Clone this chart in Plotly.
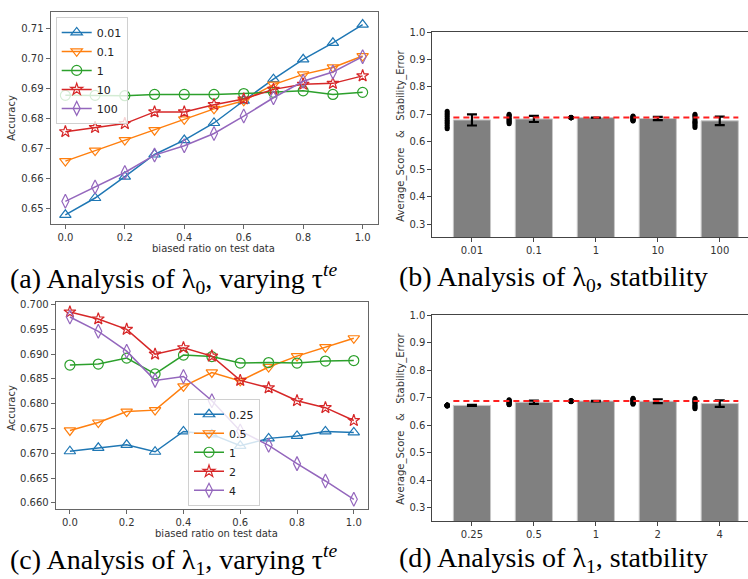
import numpy as np
import plotly.graph_objects as go

# ---------------- data ----------------
ratios = [0.0, 0.1, 0.2, 0.3, 0.4, 0.5, 0.6, 0.7, 0.8, 0.9, 1.0]

lam0_labels = ["0.01", "0.1", "1", "10", "100"]
lam0_01 = [0.6478, 0.6534, 0.6605, 0.6679, 0.6727, 0.6784, 0.6858, 0.6930, 0.6996, 0.7051, 0.7112]
lam0_1 = [0.6657, 0.6692, 0.6727, 0.6760, 0.6796, 0.6831, 0.6858, 0.6912, 0.6946, 0.6969, 0.7007]
lam0_10 = [0.6876, 0.6876, 0.6875, 0.6879, 0.6879, 0.6879, 0.6882, 0.6886, 0.6891, 0.6879, 0.6886]
lam0_100 = [0.6755, 0.6769, 0.6782, 0.6821, 0.6821, 0.6845, 0.6864, 0.6896, 0.6913, 0.6916, 0.6941]
lam0_1000 = [0.6523, 0.6571, 0.6619, 0.6677, 0.6708, 0.6749, 0.6807, 0.6868, 0.6923, 0.6954, 0.7005]

lam1_labels = ["0.25", "0.5", "1", "2", "4"]
lam1_025 = [0.6704, 0.6711, 0.6717, 0.6703, 0.6744, 0.6738, 0.6715, 0.6730, 0.6735, 0.6744, 0.6742]
lam1_05 = [0.6746, 0.6762, 0.6784, 0.6787, 0.6835, 0.6863, 0.6846, 0.6874, 0.6896, 0.6914, 0.6932]
lam1_1 = [0.6878, 0.6880, 0.6892, 0.6860, 0.6898, 0.6895, 0.6882, 0.6883, 0.6882, 0.6886, 0.6887]
lam1_2 = [0.6985, 0.6971, 0.6950, 0.6900, 0.6913, 0.6896, 0.6847, 0.6832, 0.6806, 0.6792, 0.6766]
lam1_4 = [0.6975, 0.6946, 0.6906, 0.6847, 0.6855, 0.6806, 0.6745, 0.6716, 0.6679, 0.6644, 0.6607]

series_a = [lam0_01, lam0_1, lam0_10, lam0_100, lam0_1000]
series_c = [lam1_025, lam1_05, lam1_1, lam1_2, lam1_4]

colors = ["#1f77b4", "#ff7f0e", "#2ca02c", "#d62728", "#9467bd"]
symbols = ["triangle-up-open", "triangle-down-open", "circle-open", "star-open", "diamond-tall-open"]
msizes = [10, 10, 10, 9, 10]

W, H = 748, 579


def px_x(a, b):
    return [a / W, b / W]


def px_y(top, bottom):
    return [1 - bottom / H, 1 - top / H]


fig = go.Figure()

TICKFONT = dict(family="DejaVu Sans", size=10, color="#333")
SPINE = "#666"

# ---------------- line panels ----------------
def add_lines(series, labels, xa, ya, legend):
    for s, lab, c, sym, ms in zip(series, labels, colors, symbols, msizes):
        fig.add_trace(go.Scatter(
            x=ratios, y=s, name=lab, mode="lines+markers",
            line=dict(color=c, width=1.5),
            marker=dict(symbol=sym, size=ms, color=c, line=dict(width=1.2, color=c)),
            xaxis=xa, yaxis=ya, legend=legend))


add_lines(series_a, lam0_labels, "x", "y", "legend")
add_lines(series_c, lam1_labels, "x3", "y3", "legend2")

# ---------------- bar panels ----------------
def add_bars(series, labels, xa, ya):
    pos = list(range(len(labels)))
    means = [float(np.mean(s)) for s in series]
    stds = [float(np.std(s)) for s in series]
    fig.add_trace(go.Bar(
        x=pos, y=means, width=0.6,
        marker=dict(color="#808080", line=dict(color="#c8c8c8", width=1)),
        error_y=dict(type="data", array=stds, color="black", thickness=2.2, width=5),
        xaxis=xa, yaxis=ya, showlegend=False))
    dx, dy = [], []
    for p, s in zip(pos, series):
        dx += [p - 0.4] * len(s)
        dy += list(s)
    fig.add_trace(go.Scatter(
        x=dx, y=dy, mode="markers",
        marker=dict(color="black", size=5),
        xaxis=xa, yaxis=ya, showlegend=False))
    best = max(means)
    fig.add_trace(go.Scatter(
        x=[pos[0] - 0.3, pos[-1] + 0.3], y=[best, best], mode="lines",
        line=dict(color="#ff2020", width=2, dash="6px,4px"),
        xaxis=xa, yaxis=ya, showlegend=False))


add_bars(series_a, lam0_labels, "x2", "y2")
add_bars(series_c, lam1_labels, "x4", "y4")

# ---------------- axes ----------------
line_x = dict(showline=True, linecolor=SPINE, linewidth=1, mirror=True, ticks="outside",
              ticklen=4, tickcolor=SPINE, tickfont=TICKFONT, showgrid=False, zeroline=False,
              range=[-0.05, 1.05], tickvals=[0, 0.2, 0.4, 0.6, 0.8, 1.0], tickformat=".1f")
line_y = dict(showline=True, linecolor=SPINE, linewidth=1, mirror=True, ticks="outside",
              ticklen=4, tickcolor=SPINE, tickfont=TICKFONT, showgrid=False, zeroline=False)

bar_x = dict(showline=True, linecolor="#444", linewidth=1, mirror=True, ticks="outside",
             ticklen=4, tickcolor="#444", tickfont=TICKFONT, showgrid=False, zeroline=False,
             range=[-0.64, 4.456], tickmode="array", tickvals=[0, 1, 2, 3, 4])
bar_y = dict(showline=True, linecolor="#444", linewidth=1, mirror=False, ticks="outside",
             ticklen=4, tickcolor="#444", tickfont=TICKFONT, showgrid=False, zeroline=False,
             range=[0.252, 1.0], tickvals=[0.3, 0.4, 0.5, 0.6, 0.7, 0.8, 0.9, 1.0], tickformat=".1f")

fig.update_layout(
    xaxis=dict(line_x, domain=px_x(50.5, 377.5), anchor="y"),
    yaxis=dict(line_y, domain=px_y(6, 220.7), anchor="x", range=[0.6446, 0.7154],
               tickvals=[0.65, 0.66, 0.67, 0.68, 0.69, 0.70, 0.71], tickformat=".2f"),
    xaxis2=dict(bar_x, domain=px_x(432.3, 748), anchor="y2", ticktext=lam0_labels),
    yaxis2=dict(bar_y, domain=px_y(26.3, 233.7), anchor="x2"),
    xaxis3=dict(line_x, domain=px_x(55.7, 368), anchor="y3"),
    yaxis3=dict(line_y, domain=px_y(299.3, 508), anchor="x3", range=[0.6588, 0.70048],
                tickvals=[0.660, 0.665, 0.670, 0.675, 0.680, 0.685, 0.690, 0.695, 0.700],
                tickformat=".3f"),
    xaxis4=dict(bar_x, domain=px_x(432.3, 748), anchor="y4", ticktext=lam1_labels),
    yaxis4=dict(bar_y, domain=px_y(312.7, 520.3), anchor="x4"),
)

leg_common = dict(font=dict(family="DejaVu Sans", size=11, color="#222"),
                  bgcolor="rgba(255,255,255,0.8)", bordercolor="#d0d0d0", borderwidth=1,
                  itemwidth=30, tracegroupgap=0, xanchor="left",
                  itemclick=False)
fig.update_layout(
    legend=dict(leg_common, x=55.7 / W, y=1 - 11 / H, yanchor="top"),
    legend2=dict(leg_common, x=188 / W, y=1 - 505 / H, yanchor="bottom"),
)

# ---------------- titles and captions ----------------
ann = []
tf = dict(family="DejaVu Sans", size=10, color="#333")
ann.append(dict(text="Accuracy", x=12 / W, y=1 - 113 / H, textangle=-90, font=tf))
ann.append(dict(text="Accuracy", x=12 / W, y=1 - 406 / H, textangle=-90, font=tf))
ann.append(dict(text="biased ratio on test data", x=214 / W, y=1 - 245 / H, font=tf))
ann.append(dict(text="biased ratio on test data", x=216 / W, y=1 - 533 / H, font=tf))
nb = "\u00a0"
ytitle = "Average_Score" + nb * 3 + "&" + nb * 3 + "Stability_Error"
ann.append(dict(text=ytitle, x=401 / W, y=1 - 131 / H, textangle=-90, font=tf))
ann.append(dict(text=ytitle, x=401 / W, y=1 - 417 / H, textangle=-90, font=tf))

cf = dict(family="Liberation Serif", size=28, color="#000")
ann.append(dict(text="(a) Analysis of λ<sub>0</sub>, varying τ<sup><i>te</i></sup>",
                x=8 / W, y=1 - 275 / H, xanchor="left", font=cf))
ann.append(dict(text="(b) Analysis of λ<sub>0</sub>, statbility",
                x=397 / W, y=1 - 275 / H, xanchor="left", font=cf))
ann.append(dict(text="(c) Analysis of λ<sub>1</sub>, varying τ<sup><i>te</i></sup>",
                x=8 / W, y=1 - 559 / H, xanchor="left", font=cf))
ann.append(dict(text="(d) Analysis of λ<sub>1</sub>, statbility",
                x=397 / W, y=1 - 559 / H, xanchor="left", font=cf))
for a in ann:
    a.setdefault("xanchor", "center")
    a.update(xref="paper", yref="paper", yanchor="middle", showarrow=False)

fig.update_layout(
    annotations=ann,
    width=W, height=H,
    margin=dict(l=0, r=0, t=0, b=0),
    paper_bgcolor="white", plot_bgcolor="white",
    bargap=0.4,
)

fig.write_html("out.html")
